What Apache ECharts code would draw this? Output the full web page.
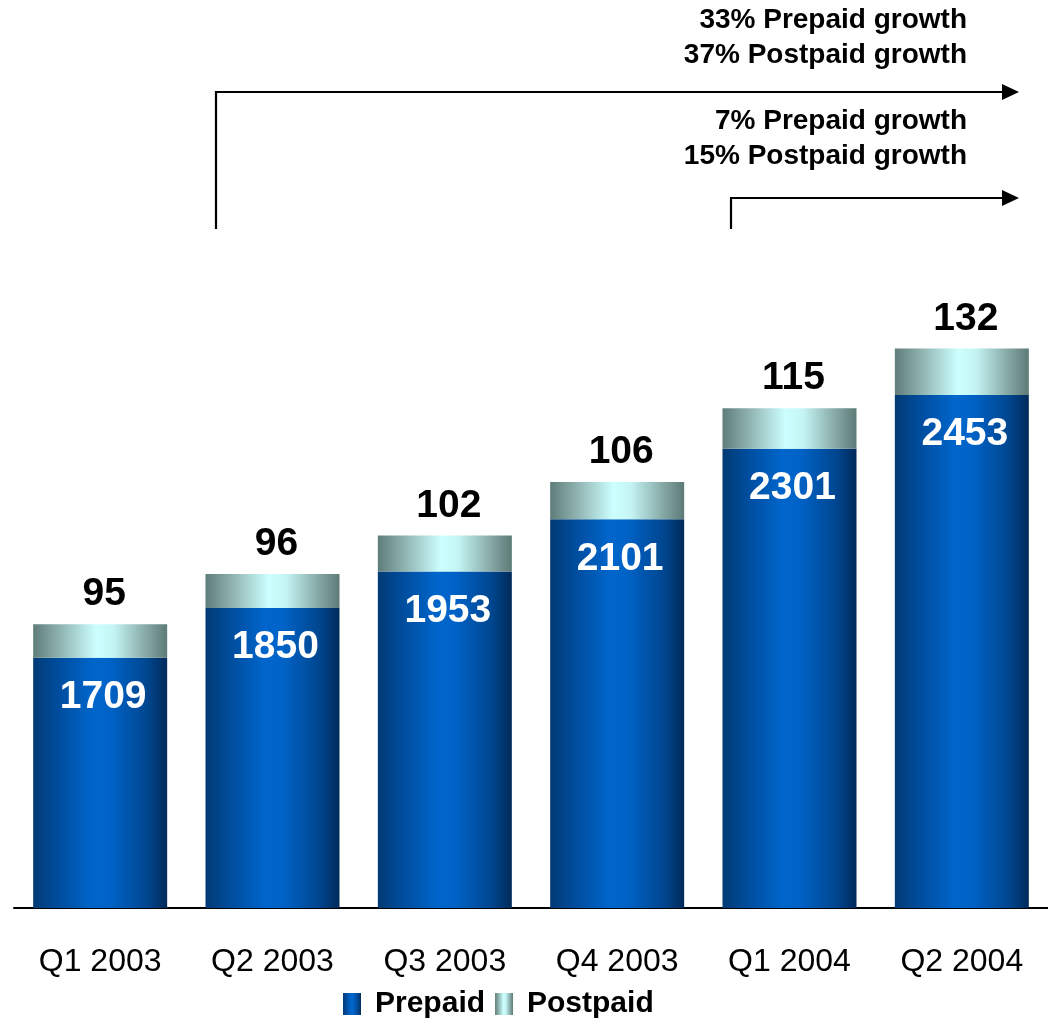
<!DOCTYPE html>
<html>
<head>
<meta charset="utf-8">
<title>Prepaid and Postpaid subscribers</title>
<script src="https://cdn.jsdelivr.net/npm/echarts@6/dist/echarts.min.js"></script>
<style>
  html, body { margin: 0; padding: 0; background: #ffffff; }
  #chart { width: 1048px; height: 1020px; }
</style>
</head>
<body>
<div id="chart"></div>
<script>
// Quarterly subscriber base (thousands)
const quarters = ['Q1 2003', 'Q2 2003', 'Q3 2003', 'Q4 2003', 'Q1 2004', 'Q2 2004'];
const prepaid = [1709, 1850, 1953, 2101, 2301, 2453];
const postpaid = [95, 96, 102, 106, 115, 132];

// Growth call-out lines
const growthLong = ['33% Prepaid growth', '37% Postpaid growth'];
const growthShort = ['7% Prepaid growth', '15% Postpaid growth'];

const FONT = '"Liberation Sans", Arial, Helvetica, sans-serif';

const prepaidFill = new echarts.graphic.LinearGradient(0, 0, 1, 0, [
  { offset: 0, color: '#023a74' },
  { offset: 0.18, color: '#004c9c' },
  { offset: 0.45, color: '#0066cc' },
  { offset: 0.58, color: '#0062c6' },
  { offset: 0.85, color: '#00468f' },
  { offset: 1, color: '#012a5a' }
]);
const postpaidFill = new echarts.graphic.LinearGradient(0, 0, 1, 0, [
  { offset: 0, color: '#5f7d7a' },
  { offset: 0.2, color: '#8fb3b0' },
  { offset: 0.47, color: '#ccffff' },
  { offset: 0.6, color: '#c4f5f4' },
  { offset: 0.85, color: '#84a6a3' },
  { offset: 1, color: '#5d7a77' }
]);

const chart = echarts.init(document.getElementById('chart'));

// Elbow connector: up from the start quarter, then right to an arrowhead
function bracket(x0, yStart, yLine, xEnd) {
  return [
    {
      type: 'polyline',
      shape: { points: [[x0, yStart], [x0, yLine], [xEnd - 14, yLine]] },
      style: { stroke: '#000000', lineWidth: 2.2, fill: null }
    },
    {
      type: 'polygon',
      shape: { points: [[xEnd - 17, yLine - 8], [xEnd, yLine], [xEnd - 17, yLine + 8]] },
      style: { fill: '#000000' }
    }
  ];
}

function calloutText(lines, yFirst) {
  return lines.map((t, i) => ({
    type: 'text',
    x: 967,
    y: yFirst + i * 35,
    style: {
      text: t,
      align: 'right',
      verticalAlign: 'middle',
      font: 'bold 28px ' + FONT,
      fill: '#000000'
    }
  }));
}

chart.setOption({
  backgroundColor: '#ffffff',
  animation: false,
  textStyle: { fontFamily: FONT },
  grid: { left: 14, right: 0, top: 202, bottom: 112, containLabel: false },
  legend: {
    left: 343,
    top: 989,
    padding: 0,
    itemWidth: 18,
    itemHeight: 22,
    itemGap: 10,
    icon: 'rect',
    selectedMode: false,
    textStyle: {
      fontFamily: FONT,
      fontSize: 30,
      fontWeight: 'bold',
      color: '#000000',
      padding: [0, 0, 0, 9]
    },
    data: ['Prepaid', 'Postpaid']
  },
  xAxis: {
    type: 'category',
    data: quarters,
    axisLine: { show: true, lineStyle: { color: '#000000', width: 2 } },
    axisTick: { show: false },
    axisLabel: {
      fontFamily: FONT,
      fontSize: 32,
      color: '#000000',
      margin: 38,
      lineHeight: 32
    }
  },
  yAxis: {
    type: 'value',
    min: 1000,
    max: 3000,
    startValue: 1000,
    show: false,
    splitLine: { show: false }
  },
  series: [
    {
      name: 'Prepaid',
      type: 'bar',
      stack: 'subs',
      barWidth: 134,
      clip: true,
      itemStyle: { color: prepaidFill },
      label: {
        show: true,
        position: 'insideTop',
        distance: 20,
        offset: [3, 0],
        fontFamily: FONT,
        fontSize: 39,
        lineHeight: 39,
        fontWeight: 'bold',
        color: '#ffffff'
      },
      data: prepaid
    },
    {
      name: 'Postpaid',
      type: 'bar',
      stack: 'subs',
      barWidth: 134,
      clip: true,
      itemStyle: { color: postpaidFill },
      label: {
        show: true,
        position: 'top',
        distance: 10,
        offset: [4, 0],
        fontFamily: FONT,
        fontSize: 39,
        lineHeight: 39,
        fontWeight: 'bold',
        color: '#000000'
      },
      data: postpaid
    }
  ],
  graphic: [
    ...calloutText(growthLong, 20),
    ...bracket(216, 229, 92, 1019),
    ...calloutText(growthShort, 121),
    ...bracket(731, 229, 198, 1019)
  ]
});
</script>
</body>
</html>
